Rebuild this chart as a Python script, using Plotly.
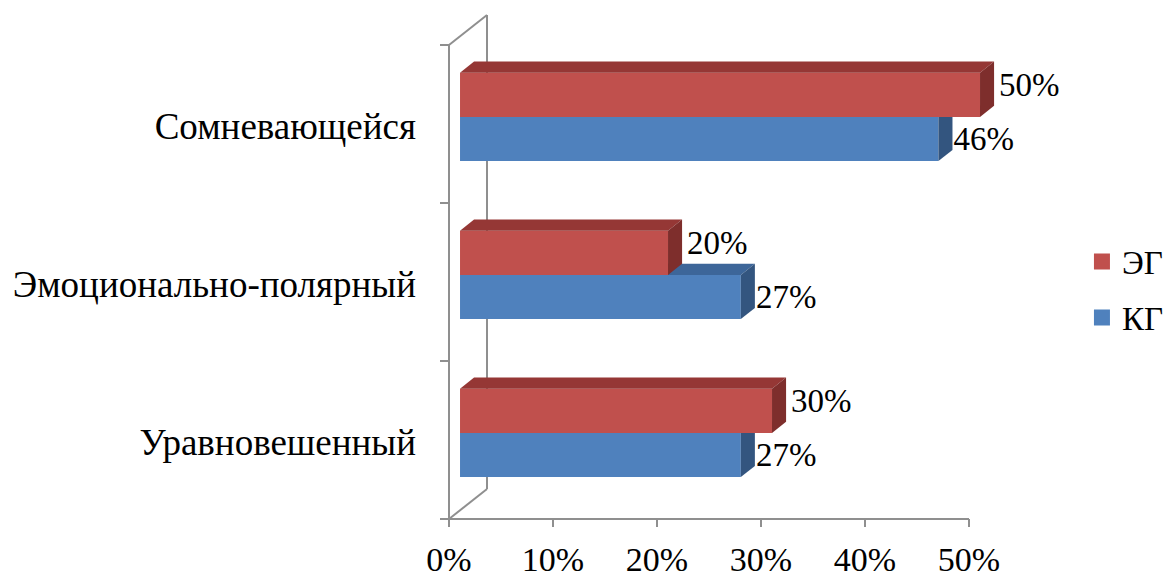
import plotly.graph_objects as go

# ---- data ----
categories = ["Уравновешенный", "Эмоционально-полярный", "Сомневающейся"]
kg_values = [0.27, 0.27, 0.46]   # КГ (blue)
eg_values = [0.30, 0.20, 0.50]   # ЭГ (red)
x_ticks = [0, 0.1, 0.2, 0.3, 0.4, 0.5]
x_tick_labels = ["0%", "10%", "20%", "30%", "40%", "50%"]
series_names = ["ЭГ", "КГ"]

# ---- style / geometry ----
FONT = "'Liberation Serif', 'Times New Roman', 'DejaVu Serif', serif"
PXX = 1040.0   # px per x unit
PXY = 158.0    # px per category unit
DX = 38 / PXX  # wall depth in x units
DY = 30 / PXY  # wall depth in y units
Z0, Z1 = 0.29, 0.66
BAR_H = 0.28
AXIS_COLOR = "#8f8f8f"

RED = dict(front="#C0504D", top="#953735", side="#7E2E2C")
BLUE = dict(front="#4F81BD", top="#3D6699", side="#33557F")

fig = go.Figure()

# walls / axes lines
wx, wy = [], []
def seg(x0, y0, x1, y1):
    wx.extend([x0, x1, None]); wy.extend([y0, y1, None])

n = len(categories)
seg(0, 0, 0, n)                 # front vertical
seg(DX, DY, DX, n + DY)         # back vertical
seg(0, n, DX, n + DY)           # top diagonal
seg(0, 0, DX, DY)               # bottom diagonal
seg(-9 / PXX, 0, x_ticks[-1], 0)  # x axis line
for i in range(n + 1):
    seg(-9 / PXX, i, 0, i)      # category ticks
for t in x_ticks:
    seg(t, 0, t, -8 / PXY)      # value ticks
fig.add_trace(go.Scatter(x=wx, y=wy, mode="lines", line=dict(color=AXIS_COLOR, width=2),
                         hoverinfo="skip", showlegend=False, cliponaxis=False))

ox0, oy0 = Z0 * DX, Z0 * DY
ox1, oy1 = Z1 * DX, Z1 * DY

def bar(v, y0, y1, col):
    polys = [
        ([ox0, v + ox0, v + ox0, ox0, ox0], [y0 + oy0, y0 + oy0, y1 + oy0, y1 + oy0, y0 + oy0], col["front"]),
        ([ox0, v + ox0, v + ox1, ox1, ox0], [y1 + oy0, y1 + oy0, y1 + oy1, y1 + oy1, y1 + oy0], col["top"]),
        ([v + ox0, v + ox1, v + ox1, v + ox0, v + ox0], [y0 + oy0, y0 + oy1, y1 + oy1, y1 + oy0, y0 + oy0], col["side"]),
    ]
    for px, py, c in polys:
        fig.add_trace(go.Scatter(x=px, y=py, mode="lines", fill="toself", fillcolor=c,
                                 line=dict(width=0, color=c), hoverinfo="skip", showlegend=False))

lab_x, lab_y, lab_t = [], [], []
for i in range(n):
    c = i + 0.5 - 0.01
    # blue (КГ) lower, red (ЭГ) upper
    vb = kg_values[i]
    bar(vb, c - BAR_H, c, BLUE)
    lab_x.append(vb + ox1 + 1 / PXX); lab_y.append(c - BAR_H / 2 + oy0 - 0.02)
    lab_t.append(f"{round(vb * 100)}%")
    vr = eg_values[i]
    bar(vr, c, c + BAR_H, RED)
    lab_x.append(vr + ox1 + 5 / PXX); lab_y.append(c + BAR_H / 2 + (oy0 + oy1) / 2 + 0.01)
    lab_t.append(f"{round(vr * 100)}%")

fig.add_trace(go.Scatter(x=lab_x, y=lab_y, text=lab_t, mode="text", textposition="middle right",
                         textfont=dict(family=FONT, size=33, color="black"),
                         hoverinfo="skip", showlegend=False, cliponaxis=False))

# legend entries
fig.add_trace(go.Scatter(x=[None], y=[None], mode="markers", name=series_names[0], legendgroup="e",
                         marker=dict(symbol="square", size=20, color=RED["front"])))
fig.add_trace(go.Scatter(x=[None], y=[None], mode="markers", name=series_names[1], legendgroup="k",
                         marker=dict(symbol="square", size=20, color=BLUE["front"])))

fig.update_layout(
    width=1170, height=579,
    margin=dict(l=430, r=90, t=10, b=44, autoexpand=False),
    paper_bgcolor="white", plot_bgcolor="white",
    font=dict(family=FONT, size=33, color="black"),
    xaxis=dict(range=[-19 / PXX, 631 / PXX], tickvals=x_ticks, ticktext=x_tick_labels,
               showgrid=False, zeroline=False, showline=False, ticks="", fixedrange=True,
               automargin=False, ticklabelstandoff=1, tickfont=dict(size=34)),
    yaxis=dict(range=[-16 / PXY, n + 35 / PXY], tickvals=[i + 0.485 for i in range(n)],
               ticktext=categories, showgrid=False, zeroline=False, showline=False, ticks="",
               ticklabelstandoff=13, automargin=False, tickfont=dict(size=37), fixedrange=True),
    legend=dict(x=1.003, y=0.574, xanchor="left", yanchor="top", traceorder="grouped",
                tracegroupgap=10, font=dict(size=33), bgcolor="rgba(0,0,0,0)"),
    showlegend=True,
)

fig.write_html("out.html", config={"displayModeBar": False},
               post_script="document.body.style.margin='0px';")
